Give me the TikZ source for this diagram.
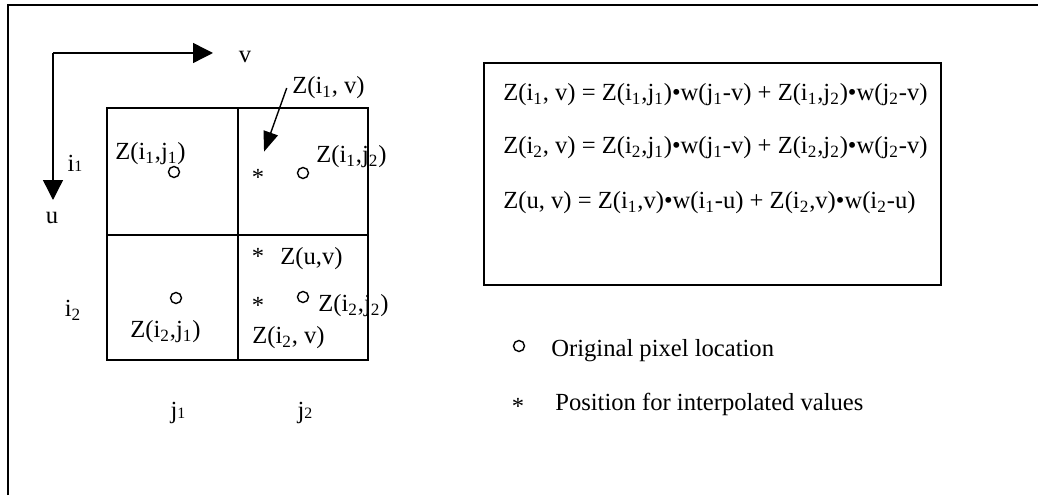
\documentclass[tikz,border=0pt]{standalone}
\usepackage{fontspec}
\setmainfont{Liberation Serif}
\usepackage{tikz}
\usetikzlibrary{arrows.meta,positioning,calc}
\newcommand{\lo}[1]{\textsubscript{#1}}
\newcommand{\sm}[1]{{\fontsize{9}{9}\selectfont #1}}
\tikzset{
    every picture/.style={line join=miter},
    frameline/.style={draw=black,line width=1.1pt},
    gridline/.style={draw=black,line width=1.1pt},
    axisarrow/.style={-{Triangle[length=0.4cm,width=0.4cm]},line width=0.8pt},
    pointer/.style={-{Triangle[length=0.4cm,width=0.3cm]},line width=0.8pt},
    lbl/.style={inner sep=0pt,anchor=west},
    pixel/.style={circle,draw=black,line width=0.8pt,minimum size=0.22cm,inner sep=0pt},
    interp/.style={inner sep=0pt}
}

\begin{document}
\begin{tikzpicture}[x=0.02cm,y=-0.02cm,font=\fontsize{14}{16}\selectfont]
  \useasboundingbox (0,0) rectangle (1038,496);
  % outer frame (open at right and bottom)
  \draw[frameline] (8,495) -- (8,5) -- (1038,5);

  % axes
  \coordinate (org) at (53,53);
  \coordinate (vtip) at (213,53);
  \coordinate (utip) at (53,200);
  \draw[axisarrow] (org) -- (vtip);
  \draw[axisarrow] (org) -- (utip);
  \node[interp] (vlab) at (245,57) {v};
  \node[interp] (ulab) at (52,218) {u};

  % 2x2 pixel grid
  \draw[gridline] (107,108) rectangle (368,360);
  \draw[gridline] (238,108) -- (238,360);
  \draw[gridline] (107,235) -- (368,235);

  % row / column labels
  \node[interp] (rowa) at (75,163) {i\sm{1}};
  \node[interp] (rowb) at (73,310) {i\lo{2}};
  \node[interp] (cola) at (178,413) {j\sm{1}};
  \node[interp] (colb) at (305,413) {j\sm{2}};

  % original pixels
  \node[pixel] (p11) at (174,172) {};
  \node[pixel] (p12) at (303,173) {};
  \node[pixel] (p21) at (176,298) {};
  \node[pixel] (p22) at (303,297) {};
  \node[lbl] (z11) at (115,154) {Z(i\lo{1},j\lo{1})};
  \node[lbl] (z12) at (316,157) {Z(i\lo{1},j\lo{2})};
  \node[lbl] (z21) at (130,332) {Z(i\lo{2},j\lo{1})};
  \node[lbl] (z22) at (318,306) {Z(i\lo{2},j\lo{2})};

  % interpolated positions
  \node[interp] (s1v) at (258,177) {*};
  \node[interp] (suv) at (258,256) {*};
  \node[interp] (s2v) at (258,305) {*};
  \node[lbl] (zi1v) at (292,88) {Z(i\lo{1}, v)};
  \node[lbl] (zuv) at (280,259) {Z(u,v)};
  \node[lbl] (zi2v) at (252,338) {Z(i\lo{2}, v)};
  \draw[pointer,shorten >=0.36cm] ([xshift=-3pt]zi1v.west) -- (s1v.north);

  % formulas
  \draw[frameline] (484,63) rectangle (941,285);
  \node[lbl] (eqa) at (503,95)
    {Z(i\lo{1}, v) = Z(i\lo{1},j\lo{1})\textbullet w(j\lo{1}-v) + Z(i\lo{1},j\lo{2})\textbullet w(j\lo{2}-v)};
  \node[lbl] (eqb) at (503,148)
    {Z(i\lo{2}, v) = Z(i\lo{2},j\lo{1})\textbullet w(j\lo{1}-v) + Z(i\lo{2},j\lo{2})\textbullet w(j\lo{2}-v)};
  \node[lbl] (eqc) at (503,203)
    {Z(u, v) = Z(i\lo{1},v)\textbullet w(i\lo{1}-u) + Z(i\lo{2},v)\textbullet w(i\lo{2}-u)};

  % legend
  \node[pixel] (keyp) at (519,346) {};
  \node[lbl] (keyptxt) at (551,351) {Original pixel location};
  \node[interp] (keys) at (518,406) {*};
  \node[lbl] (keystxt) at (555,404) {Position for interpolated values};
\end{tikzpicture}
\end{document}
